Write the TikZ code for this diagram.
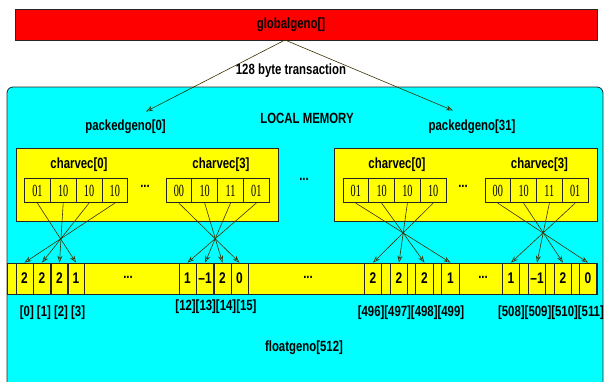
\documentclass[tikz,border=0pt]{standalone}
\usepackage{fontspec}
\setmainfont{Liberation Sans}[FakeStretch=0.77]
\newfontfamily\cellfont{Liberation Serif}[FakeStretch=0.6]
\usetikzlibrary{arrows.meta}
\definecolor{linkcol}{RGB}{60,48,0}
\definecolor{memred}{RGB}{255,0,0}
\definecolor{memcyan}{RGB}{0,255,255}
\definecolor{memyellow}{RGB}{255,255,0}
\begin{document}
\begin{tikzpicture}[x=1pt,y=-1pt,
  lbl/.style={font=\fontsize{14.8}{16}\selectfont\bfseries, inner sep=0pt},
  panel/.style={draw=black!85, line width=0.8pt, inner sep=0pt},
  bitcell/.style={draw=black!85, line width=0.7pt, minimum width=25.8pt, minimum height=24.5pt,
    inner sep=0pt, font=\cellfont\fontsize{17}{18}\selectfont},
  slot/.style={draw=black!85, line width=0.7pt, minimum height=31pt, inner sep=0pt,
    font=\fontsize{15.5}{16}\selectfont\bfseries},
  link/.style={draw=linkcol, line width=0.6pt, -{Stealth[open,length=7pt,width=5pt]}}
]
\useasboundingbox (0,0) rectangle (608,381);

% global memory and local memory panels
\node[panel, fill=memred, minimum width=582pt, minimum height=31pt] (global) at (306,24.5) {};
\node[lbl] (globallbl) at (291,24.5) {globalgeno[]};
\node[panel, fill=memcyan, rounded corners=6pt, minimum width=596pt, minimum height=313pt] (local) at (305,243.5) {};

% 128 byte transaction fan-out
\coordinate (txsrc) at (285,40);
\coordinate (tip0) at (146,111.5);
\coordinate (tip31) at (453,110.5);
\draw[link] (txsrc) -- (tip0);
\draw[link] (txsrc) -- (tip31);
\node[lbl] (txlbl) at (291,71) {128 byte transaction};
\node[lbl] (locallbl) at (307,118.5) {LOCAL MEMORY};
\node[lbl] (pk0lbl) at (125.5,126.5) {packedgeno[0]};
\node[lbl] (pk31lbl) at (472,126.5) {packedgeno[31]};

% packed genotype words
\node[panel, fill=memyellow, minimum width=262pt, minimum height=73pt] (packL) at (147,184.5) {};
\node[panel, fill=memyellow, minimum width=263pt, minimum height=73pt] (packR) at (465.5,184.5) {};
\node[lbl] (cvLa) at (79,165) {charvec[0]};
\node[lbl] (cvLb) at (221,165) {charvec[3]};
\node[lbl] (cvRa) at (397,165) {charvec[0]};
\node[lbl] (cvRb) at (539.5,165) {charvec[3]};
\node[lbl] (dotsL) at (145,186) {...};
\node[lbl] (dotsR) at (463,186) {...};
\node[lbl] (dotsMid) at (304,179) {...};

% two-bit codes inside each charvec
\foreach \t [count=\i from 0] in {01,10,10,10}
  \node[bitcell] (ca\i) at ({37.4+25.8*\i},190.5) {\t};
\foreach \t [count=\i from 0] in {00,10,11,01}
  \node[bitcell] (cb\i) at ({178.9+25.8*\i},190.5) {\t};
\foreach \t [count=\i from 0] in {01,10,10,10}
  \node[bitcell] (cc\i) at ({355.8+25.8*\i},190.5) {\t};
\foreach \t [count=\i from 0] in {00,10,11,01}
  \node[bitcell] (cd\i) at ({497.8+25.8*\i},190.5) {\t};

% unpacked float genotypes
\node[panel, fill=memyellow, minimum width=590pt, minimum height=31pt] (floatrow) at (302,278.5) {};
\foreach \t/\x [count=\i from 0] in {2/24.5,2/42,2/59.5,1/76}
  \node[slot, minimum width=17.3pt] (sa\i) at (\x,278.5) {\t};
\foreach \t/\x [count=\i from 0] in {1/187.5,–1/205,2/222.5,0/239.5}
  \node[slot, minimum width=17.3pt] (sb\i) at (\x,278.5) {\t};
\foreach \t/\x [count=\i from 0] in {2/373,2/399,2/424.5,1/450.5}
  \node[slot, minimum width=17.5pt] (sc\i) at (\x,278.5) {\t};
\foreach \t/\x [count=\i from 0] in {1/511,–1/537,2/563,0/588}
  \node[slot, minimum width=17.5pt] (sd\i) at (\x,278.5) {\t};
\node[lbl] (fdots1) at (128,277) {...};
\node[lbl] (fdots2) at (308,277) {...};
\node[lbl] (fdots3) at (483,277) {...};

% code i of each charvec lands in slot 3-i
\foreach \g in {a,b,c,d}
  \foreach \i in {0,1,2,3}
    \draw[link] (c\g\i.south) -- (s\g\the\numexpr3-\i\relax.north);

% indices
\node[lbl] (idxA) at (52.5,313) {[0] [1] [2] [3]};
\node[lbl] (idxB) at (216,307) {[12][13][14][15]};
\node[lbl] (idxC) at (411,313) {[496][497][498][499]};
\node[lbl] (idxD) at (551,313) {[508][509][510][511]};
\node[lbl] (floatlbl) at (304,348) {floatgeno[512]};
\end{tikzpicture}
\end{document}
